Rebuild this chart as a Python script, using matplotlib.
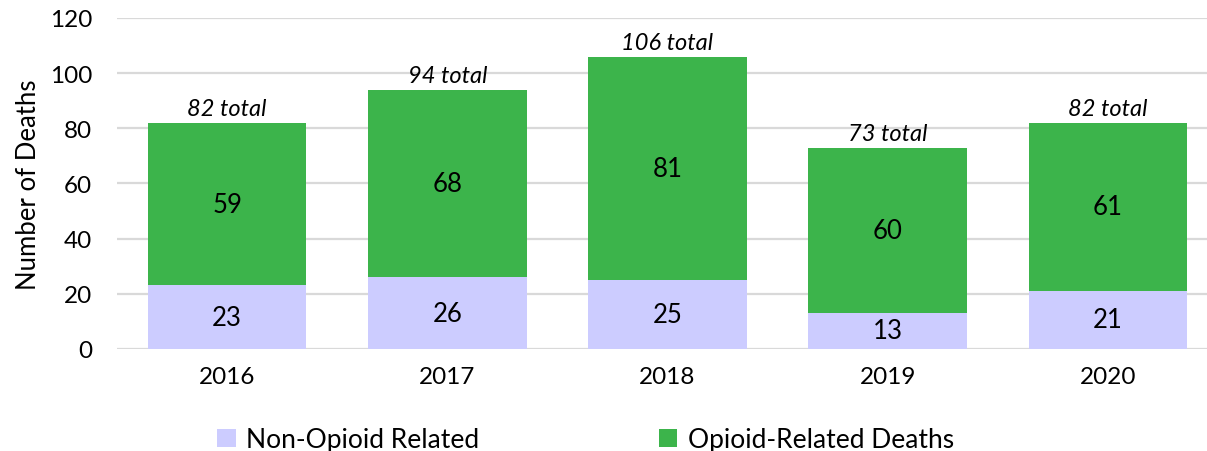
import numpy as np
import matplotlib.pyplot as plt

years = ["2016", "2017", "2018", "2019", "2020"]
non_opioid = [23, 26, 25, 13, 21]
opioid = [59, 68, 81, 60, 61]
totals = [a + b for a, b in zip(non_opioid, opioid)]

plt.rcParams['font.family'] = ['Lato', 'DejaVu Sans']

fig = plt.figure(figsize=(12.07, 4.52), dpi=100)
ax = fig.add_axes([0.097, 0.226, 0.903, 0.732])

x = np.arange(len(years))
w = 0.72
ax.bar(x, non_opioid, w, color="#CCCCFF", label="Non-Opioid Related", zorder=2)
ax.bar(x, opioid, w, bottom=non_opioid, color="#3CB44B", label="Opioid-Related Deaths", zorder=2)

for i in range(len(years)):
    ax.text(x[i], non_opioid[i] / 2, str(non_opioid[i]), ha="center", va="center", fontsize=18.5)
    ax.text(x[i], non_opioid[i] + opioid[i] / 2, str(opioid[i]), ha="center", va="center", fontsize=18.5)
    ax.text(x[i], totals[i] + 1.2, f"{totals[i]} total", ha="center", va="bottom",
            fontsize=17, style="italic")

ax.set_ylim(0, 120)
ax.set_xlim(-0.5, 4.45)
ax.set_yticks(range(0, 121, 20))
ax.set_xticks(x)
ax.set_xticklabels(years)
ax.tick_params(axis="both", length=0, labelsize=17.5, pad=12)
ax.tick_params(axis="y", pad=18)
ax.grid(axis="y", color="#D9D9D9", linewidth=1.6, zorder=0)
for s in ax.spines.values():
    s.set_visible(False)
ax.set_ylabel("Number of Deaths", fontsize=18.5, labelpad=6)

ax.legend(loc="upper center", bbox_to_anchor=(0.43, -0.165), ncol=2, frameon=False,
          fontsize=19, handlelength=0.7, handleheight=0.7, columnspacing=6.8, handletextpad=0.4)

fig.savefig("out.png", dpi=100)
